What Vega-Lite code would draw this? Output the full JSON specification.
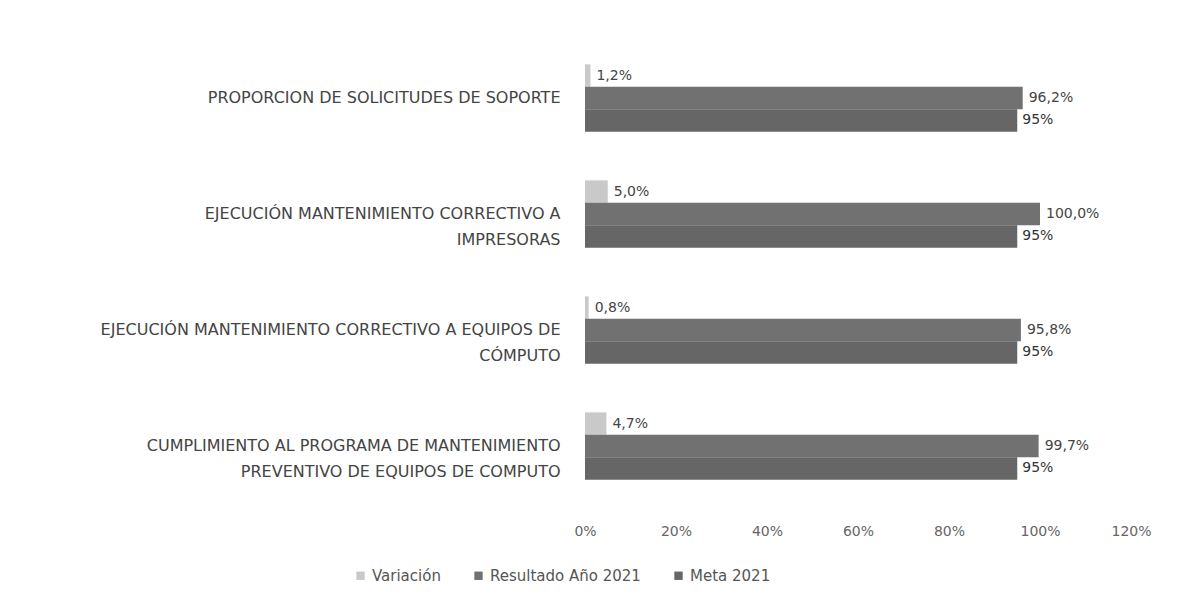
{
  "$schema": "https://vega.github.io/schema/vega-lite/v6.json",
  "autosize": {"type": "none"},
  "width": 546,
  "height": 464,
  "padding": {"left": 585, "top": 40, "right": 47, "bottom": 109},
  "background": "white",
  "config": {
    "view": {"stroke": null},
    "font": "DejaVu Sans",
    "locale": {"number": {"decimal": ",", "thousands": ".", "grouping": [3], "currency": ["", " €"]}}
  },
  "data": {
    "values": [
      {"indicador": "PROPORCION DE SOLICITUDES DE SOPORTE", "serie": "Variación", "valor": 0.012},
      {"indicador": "PROPORCION DE SOLICITUDES DE SOPORTE", "serie": "Resultado Año 2021", "valor": 0.962},
      {"indicador": "PROPORCION DE SOLICITUDES DE SOPORTE", "serie": "Meta 2021", "valor": 0.95},
      {"indicador": "EJECUCIÓN MANTENIMIENTO CORRECTIVO A IMPRESORAS", "serie": "Variación", "valor": 0.05},
      {"indicador": "EJECUCIÓN MANTENIMIENTO CORRECTIVO A IMPRESORAS", "serie": "Resultado Año 2021", "valor": 1.0},
      {"indicador": "EJECUCIÓN MANTENIMIENTO CORRECTIVO A IMPRESORAS", "serie": "Meta 2021", "valor": 0.95},
      {"indicador": "EJECUCIÓN MANTENIMIENTO CORRECTIVO A EQUIPOS DE CÓMPUTO", "serie": "Variación", "valor": 0.008},
      {"indicador": "EJECUCIÓN MANTENIMIENTO CORRECTIVO A EQUIPOS DE CÓMPUTO", "serie": "Resultado Año 2021", "valor": 0.958},
      {"indicador": "EJECUCIÓN MANTENIMIENTO CORRECTIVO A EQUIPOS DE CÓMPUTO", "serie": "Meta 2021", "valor": 0.95},
      {"indicador": "CUMPLIMIENTO AL PROGRAMA DE MANTENIMIENTO PREVENTIVO DE EQUIPOS DE COMPUTO", "serie": "Variación", "valor": 0.047},
      {"indicador": "CUMPLIMIENTO AL PROGRAMA DE MANTENIMIENTO PREVENTIVO DE EQUIPOS DE COMPUTO", "serie": "Resultado Año 2021", "valor": 0.997},
      {"indicador": "CUMPLIMIENTO AL PROGRAMA DE MANTENIMIENTO PREVENTIVO DE EQUIPOS DE COMPUTO", "serie": "Meta 2021", "valor": 0.95}
    ]
  },
  "encoding": {
    "y": {
      "field": "indicador",
      "type": "nominal",
      "sort": [
        "PROPORCION DE SOLICITUDES DE SOPORTE",
        "EJECUCIÓN MANTENIMIENTO CORRECTIVO A IMPRESORAS",
        "EJECUCIÓN MANTENIMIENTO CORRECTIVO A EQUIPOS DE CÓMPUTO",
        "CUMPLIMIENTO AL PROGRAMA DE MANTENIMIENTO PREVENTIVO DE EQUIPOS DE COMPUTO"
      ],
      "scale": {"paddingInner": 0.42, "paddingOuter": 0.21},
      "axis": {
        "title": null,
        "domain": false,
        "ticks": false,
        "labelPadding": 25,
        "labelFontSize": 16,
        "labelColor": "#444444",
        "labelLimit": 0,
        "labelLineHeight": 26,
        "labelAlign": "right",
        "labelExpr": "datum.value == 'EJECUCIÓN MANTENIMIENTO CORRECTIVO A IMPRESORAS' ? ['EJECUCIÓN MANTENIMIENTO CORRECTIVO A', 'IMPRESORAS'] : datum.value == 'EJECUCIÓN MANTENIMIENTO CORRECTIVO A EQUIPOS DE CÓMPUTO' ? ['EJECUCIÓN MANTENIMIENTO CORRECTIVO A EQUIPOS DE', 'CÓMPUTO'] : datum.value == 'CUMPLIMIENTO AL PROGRAMA DE MANTENIMIENTO PREVENTIVO DE EQUIPOS DE COMPUTO' ? ['CUMPLIMIENTO AL PROGRAMA DE MANTENIMIENTO', 'PREVENTIVO DE EQUIPOS DE COMPUTO'] : datum.value"
      }
    },
    "yOffset": {"field": "serie", "type": "nominal", "sort": ["Variación", "Resultado Año 2021", "Meta 2021"]}
  },
  "layer": [
    {
      "mark": {"type": "bar"},
      "encoding": {
        "x": {
          "field": "valor",
          "type": "quantitative",
          "scale": {"domain": [0, 1.2], "nice": false},
          "axis": {
            "title": null,
            "format": ".0%",
            "values": [0, 0.2, 0.4, 0.6, 0.8, 1.0, 1.2],
            "grid": false,
            "domain": false,
            "ticks": false,
            "labelFlush": false,
            "labelPadding": 20,
            "labelFontSize": 14,
            "labelColor": "#666666"
          }
        },
        "color": {
          "field": "serie",
          "type": "nominal",
          "sort": ["Variación", "Resultado Año 2021", "Meta 2021"],
          "scale": {"domain": ["Variación", "Resultado Año 2021", "Meta 2021"], "range": ["#c9c9c9", "#717171", "#666666"]},
          "legend": {
            "title": null,
            "orient": "none",
            "direction": "horizontal",
            "legendX": -232,
            "legendY": 528,
            "symbolType": "square",
            "symbolSize": 70,
            "labelFontSize": 15,
            "labelColor": "#555555",
            "columnPadding": 30
          }
        }
      }
    },
    {
      "transform": [{"filter": "datum.serie != 'Meta 2021'"}],
      "mark": {"type": "text", "align": "left", "baseline": "middle", "dx": 6, "fontSize": 14, "color": "#444444"},
      "encoding": {
        "x": {"field": "valor", "type": "quantitative"},
        "text": {"field": "valor", "type": "quantitative", "format": ".1%"}
      }
    },
    {
      "transform": [{"filter": "datum.serie == 'Meta 2021'"}],
      "mark": {"type": "text", "align": "left", "baseline": "middle", "dx": 5, "fontSize": 14, "color": "#333333"},
      "encoding": {
        "x": {"field": "valor", "type": "quantitative"},
        "text": {"field": "valor", "type": "quantitative", "format": ".0%"}
      }
    }
  ]
}
